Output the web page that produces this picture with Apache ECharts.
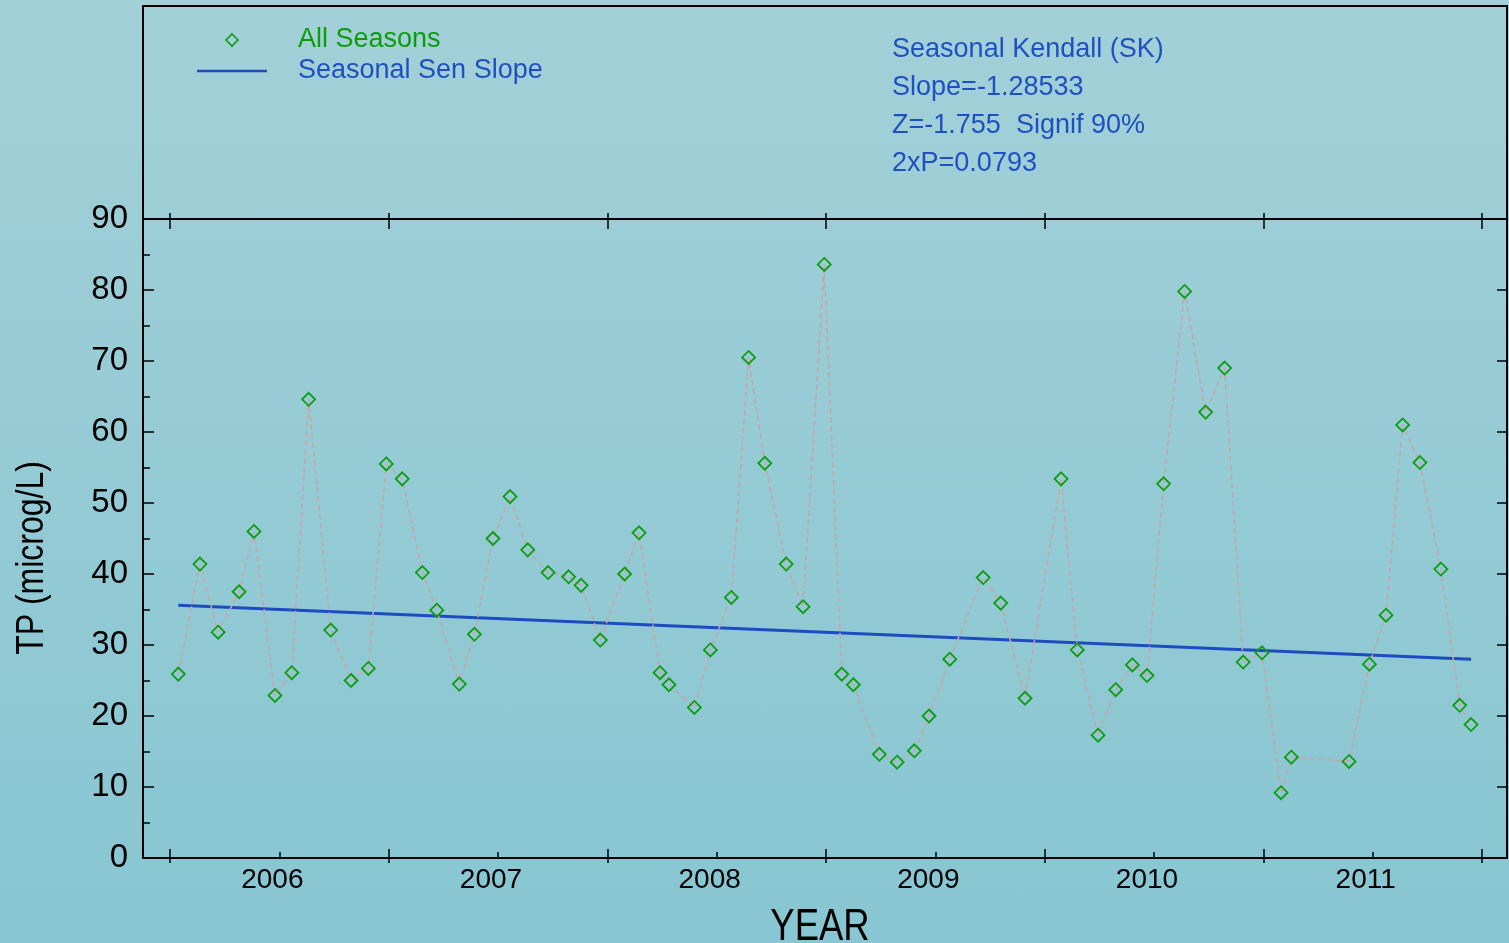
<!DOCTYPE html>
<html><head><meta charset="utf-8">
<script src="https://cdn.jsdelivr.net/npm/echarts@6/dist/echarts.min.js"></script>
<style>
html,body{margin:0;padding:0;overflow:hidden;}
#c{width:1509px;height:943px;background:linear-gradient(to bottom,#a3d0d8 0%,#87c6d2 100%);}
</style></head><body><div id="c"></div>
<script>
// ---- data (decimal years, TP in microg/L) ----
const sampleTimes = [
  2005.538, 2005.637, 2005.720, 2005.816, 2005.884, 2005.980, 2006.057, 2006.134, 2006.235, 2006.328,
  2006.407, 2006.489, 2006.562, 2006.654, 2006.720, 2006.823, 2006.892, 2006.977, 2007.055, 2007.136,
  2007.229, 2007.323, 2007.380, 2007.468, 2007.579, 2007.645, 2007.741, 2007.782, 2007.898, 2007.971,
  2008.067, 2008.146, 2008.220, 2008.318, 2008.395, 2008.492, 2008.572, 2008.625, 2008.744, 2008.825,
  2008.904, 2008.971, 2009.066, 2009.219, 2009.299, 2009.410, 2009.575, 2009.649, 2009.744, 2009.825,
  2009.901, 2009.968, 2010.044, 2010.140, 2010.236, 2010.323, 2010.408, 2010.494, 2010.581, 2010.628,
  2010.892, 2010.985, 2011.061, 2011.137, 2011.216, 2011.312, 2011.398, 2011.450
];
const tpValues = [
  25.9, 41.4, 31.8, 37.5, 46.0, 22.9, 26.1, 64.6, 32.1, 25.0,
  26.7, 55.5, 53.4, 40.2, 34.9, 24.5, 31.5, 45.0, 50.9, 43.4,
  40.2, 39.6, 38.4, 30.7, 40.0, 45.8, 26.1, 24.4, 21.2, 29.3,
  36.7, 70.5, 55.6, 41.4, 35.4, 83.6, 25.9, 24.4, 14.6, 13.5,
  15.1, 20.0, 28.0, 39.5, 35.9, 22.5, 53.4, 29.3, 17.3, 23.7,
  27.2, 25.7, 52.7, 79.8, 62.8, 69.0, 27.6, 28.9, 9.2, 14.2,
  13.6, 27.3, 34.2, 61.0, 55.7, 40.7, 21.5, 18.8
];
const trendTimes = [2005.538, 2011.450];
const trendValues = [35.6, 28.0];
const halfYearTicks = [2005.5, 2006.5, 2007.5, 2008.5, 2009.5, 2010.5, 2011.5];
const yearTicks = [2006, 2007, 2008, 2009, 2010, 2011];
const statsLines = ['Seasonal Kendall (SK)', 'Slope=-1.28533', 'Z=-1.755  Signif 90%', '2xP=0.0793'];
const seriesNames = ['All Seasons', 'Seasonal Sen Slope'];
const xTitle = 'YEAR';
const yTitle = 'TP (microg/L)';
const X_MIN = 2005.3765, X_MAX = 2011.6143;

const FONT = '"Liberation Sans", Arial, sans-serif';
const GREEN = '#0f9c0f', BLUE = '#1c4cbd', TEXTBLUE = '#1f50c0';
const tickLS = {color:'#000', width:1.5};

const chart = echarts.init(document.getElementById('c'), null, {renderer:'canvas'});
const baseX = {type:'value', min:X_MIN, max:X_MAX, gridIndex:0, splitLine:{show:false},
  axisLabel:{show:false}, axisLine:{show:false, onZero:false}, axisTick:{show:false}};

const statsGraphics = statsLines.map((s, i) => ({
  type:'text', x:892, y:49 + i*38, scaleX:0.965, z:10,
  style:{text:s, fontSize:28, fontFamily:FONT, fill:TEXTBLUE, align:'left', verticalAlign:'middle'}
}));

const option = {
  backgroundColor:'transparent',
  animation:false,
  legend:{orient:'vertical', left:197, top:25, padding:0, itemWidth:70, itemHeight:12, itemGap:1,
    selectedMode:false,
    textStyle:{fontSize:27, lineHeight:30, fontFamily:FONT, padding:[0,0,0,26]},
    data:[
      {name:seriesNames[0], icon:'path://M5,0L10,5L5,10L0,5Z',
        itemStyle:{color:'rgba(0,0,0,0)', borderColor:GREEN, borderWidth:1.6},
        textStyle:{color:'#0a9e0a'}},
      {name:seriesNames[1], icon:'path://M0,0L70,0L70,2.6L0,2.6Z',
        itemStyle:{color:BLUE, borderWidth:0},
        textStyle:{color:TEXTBLUE}}
    ]},
  graphic:[
    {type:'rect', shape:{x:143, y:6, width:1364, height:852}, z:-1,
      style:{fill:null, stroke:'#000', lineWidth:2}},
    ...statsGraphics,
    {type:'text', x:820, y:928, scaleX:0.83, z:10,
      style:{text:xTitle, fontSize:44, fontFamily:FONT, fill:'#000', align:'center', verticalAlign:'middle'}},
    {type:'text', x:32, y:558, rotation:Math.PI/2, scaleX:0.82, z:10,
      style:{text:yTitle, fontSize:39, fontFamily:FONT, fill:'#000', align:'center', verticalAlign:'middle'}}
  ],
  grid:{left:143, right:2, top:219, bottom:85, containLabel:false, outerBoundsMode:'none'},
  xAxis:[
    {...baseX, position:'bottom',
      axisLine:{show:true, onZero:false, lineStyle:{color:'#000', width:2}},
      axisTick:{show:true, inside:true, length:9, customValues:halfYearTicks, lineStyle:tickLS},
      axisLabel:{show:true, customValues:yearTicks, margin:8, fontSize:28, color:'#000', fontFamily:FONT,
        padding:[0,14,0,0], formatter:v=>String(Math.round(v))}},
    {...baseX, position:'bottom',
      axisTick:{show:true, inside:false, length:5, customValues:halfYearTicks, lineStyle:tickLS}},
    {...baseX, position:'bottom',
      axisTick:{show:true, inside:true, length:6, customValues:yearTicks, lineStyle:tickLS}},
    {...baseX, position:'top',
      axisLine:{show:true, onZero:false, lineStyle:{color:'#000', width:2}},
      axisTick:{show:true, inside:true, length:10, customValues:halfYearTicks, lineStyle:tickLS}},
    {...baseX, position:'top',
      axisTick:{show:true, inside:false, length:6, customValues:halfYearTicks, lineStyle:tickLS}}
  ],
  yAxis:[
    {type:'value', position:'left', min:0, max:90, interval:10, splitLine:{show:false},
      axisLine:{show:true, onZero:false, lineStyle:{color:'#000', width:2}},
      axisTick:{show:true, inside:true, length:11, lineStyle:tickLS},
      minorTick:{show:true, splitNumber:2, length:7, lineStyle:tickLS},
      axisLabel:{fontSize:33, margin:15, color:'#000', fontFamily:FONT}},
    {type:'value', position:'right', min:0, max:90, interval:10, splitLine:{show:false},
      axisLine:{show:true, onZero:false, lineStyle:{color:'#000', width:2}},
      axisTick:{show:true, inside:true, length:10, lineStyle:tickLS},
      axisLabel:{show:false}}
  ],
  series:[
    {name:seriesNames[0], type:'line', xAxisIndex:0, yAxisIndex:0,
      data: sampleTimes.map((t,i)=>[t, tpValues[i]]),
      symbol:'diamond', symbolSize:13, showAllSymbol:true,
      itemStyle:{color:'rgba(0,0,0,0)', borderColor:GREEN, borderWidth:1.8},
      lineStyle:{color:'#c4a8a8', width:1.5, type:[6,3]},
      emphasis:{disabled:true}, z:3},
    {name:seriesNames[1], type:'line', xAxisIndex:0, yAxisIndex:0,
      data: trendTimes.map((t,i)=>[t, trendValues[i]]),
      symbol:'none', lineStyle:{color:BLUE, width:3}, itemStyle:{color:BLUE},
      emphasis:{disabled:true}, z:2}
  ]
};
chart.setOption(option);
</script></body></html>
